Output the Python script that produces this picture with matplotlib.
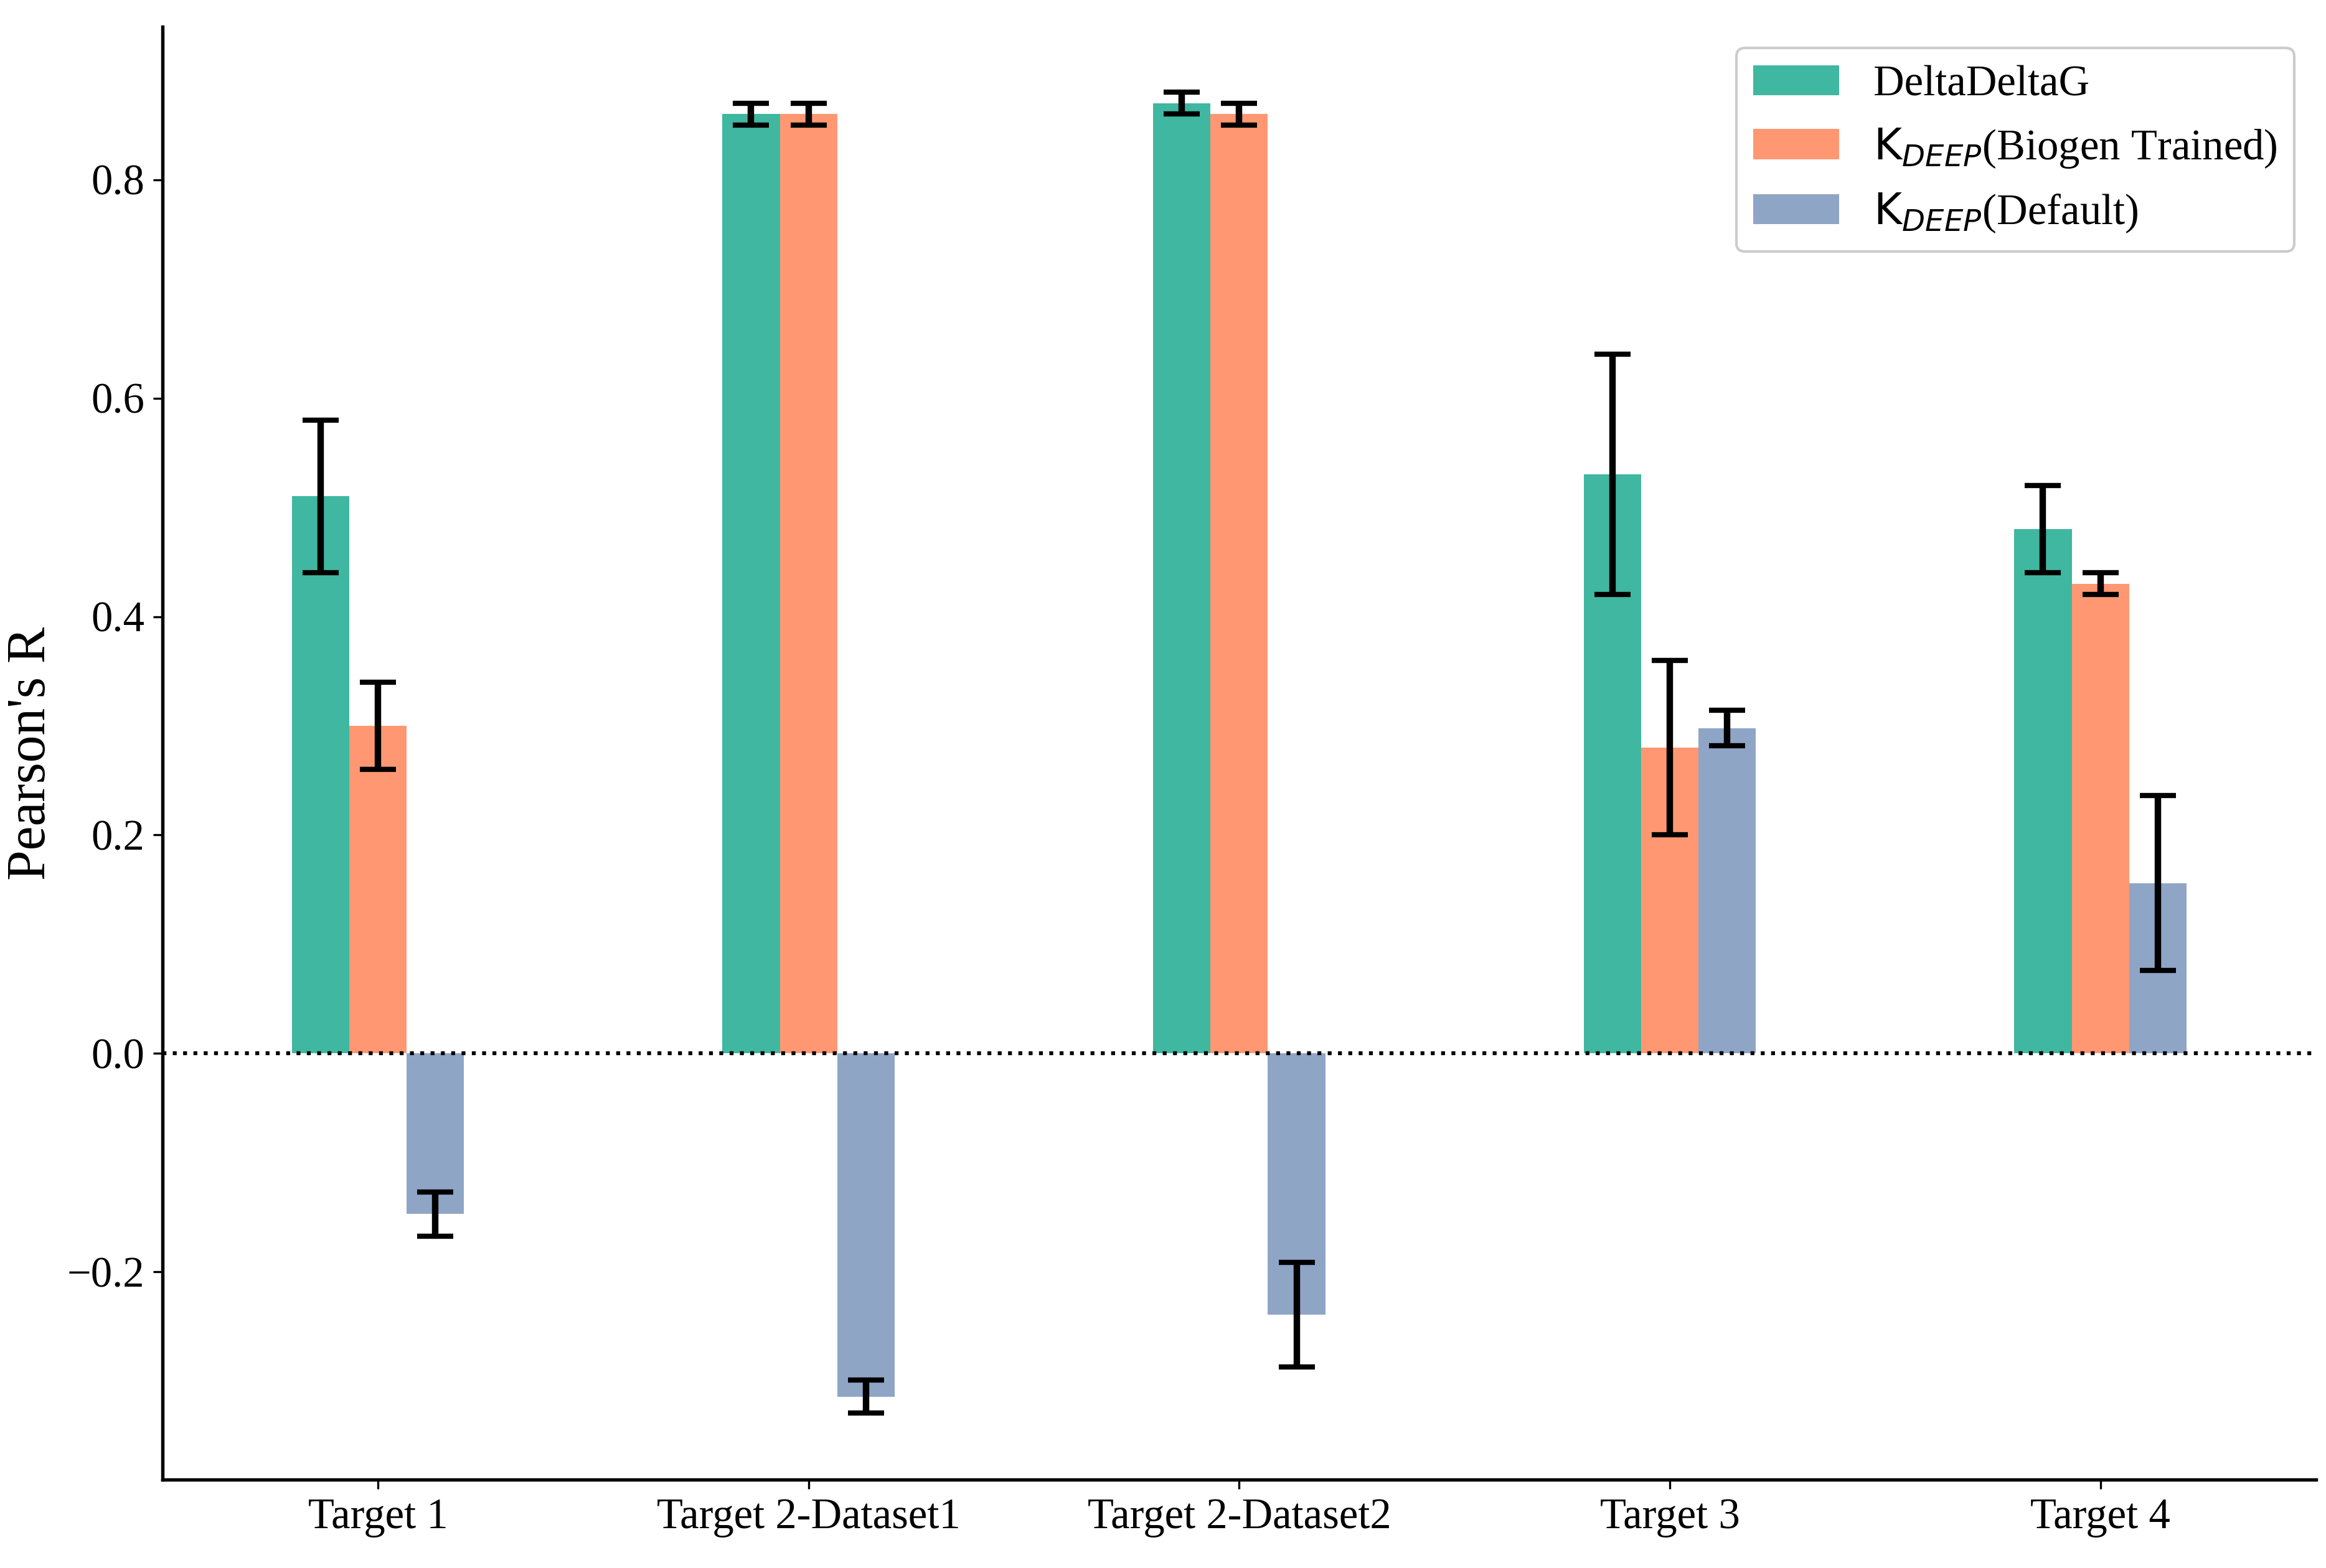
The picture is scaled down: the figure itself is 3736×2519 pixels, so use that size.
import numpy as np
import matplotlib.pyplot as plt

plt.rcParams.update({
    "font.family": "serif",
    "font.serif": ["Liberation Serif", "DejaVu Serif"],
    "mathtext.fontset": "dejavusans",
    "font.size": 16.5,
})

# --- Data ---
targets = ["Target 1", "Target 2-Dataset1", "Target 2-Dataset2", "Target 3", "Target 4"]
ddg = [0.51, 0.86, 0.87, 0.53, 0.48]
ddg_err = [0.07, 0.01, 0.01, 0.11, 0.04]
kdeep_biogen = [0.30, 0.86, 0.86, 0.28, 0.43]
kdeep_biogen_err = [0.04, 0.01, 0.01, 0.08, 0.01]
kdeep_default = [-0.147, -0.314, -0.239, 0.298, 0.156]
kdeep_default_err = [0.02, 0.015, 0.048, 0.016, 0.08]

series = [
    ("DeltaDeltaG", ddg, ddg_err, "#40b7a0"),
    (r"$\mathrm{K}_{DEEP}$(Biogen Trained)", kdeep_biogen, kdeep_biogen_err, "#ff9872"),
    (r"$\mathrm{K}_{DEEP}$(Default)", kdeep_default, kdeep_default_err, "#8fa5c6"),
]

# --- Plot ---
fig = plt.figure(figsize=(3736 / 300, 2519 / 300), dpi=300)
ax = fig.add_axes([0.0699, 0.0564, 0.9257, 0.9266])

x = np.arange(len(targets))
w = 0.4 / 3
for i, (label, vals, errs, color) in enumerate(series):
    ax.bar(x + (i - 1) * w, vals, w, color=color, label=label,
           yerr=errs, capsize=7,
           error_kw=dict(elinewidth=2.5, capthick=2, ecolor="black"))

ax.axhline(0, color="black", ls=":", lw=1.5)

ax.set_xlim(-0.5, 4.5)
ax.set_ylim(-0.39, 0.94)
ax.set_xticks(x)
ax.set_xticklabels(targets)
ax.set_yticks([-0.2, 0.0, 0.2, 0.4, 0.6, 0.8])
ax.set_ylabel("Pearson's R", fontsize=21)

for s in ["top", "right"]:
    ax.spines[s].set_visible(False)
for s in ["left", "bottom"]:
    ax.spines[s].set_linewidth(1.3)

ax.legend(loc="upper right", fontsize=16.5, framealpha=1, edgecolor="#cccccc",
          bbox_to_anchor=(1.0, 1.0))

plt.savefig("out.png", dpi=300)
